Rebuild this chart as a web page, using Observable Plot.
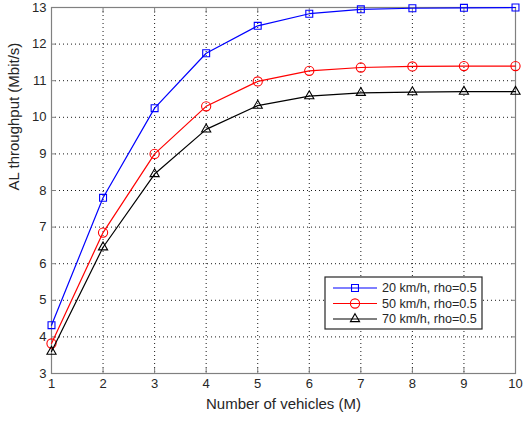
<!DOCTYPE html>
<html><head><meta charset="utf-8">
<script src="https://cdn.jsdelivr.net/npm/d3@7"></script>
<script src="https://cdn.jsdelivr.net/npm/@observablehq/plot@0.6"></script>
<style>
body{margin:0;background:#fff;}
#chart{position:relative;width:523px;height:423px;}
</style>
</head><body><div id="chart"></div>
<script>
const vehicles = [1,2,3,4,5,6,7,8,9,10];
const series20 = [4.32,7.80,10.25,11.75,12.50,12.83,12.95,12.98,12.99,13.00];
const series50 = [3.82,6.85,9.00,10.30,10.98,11.27,11.36,11.39,11.40,11.40];
const series70 = [3.60,6.45,8.45,9.67,10.32,10.58,10.67,10.69,10.70,10.70];
const seriesNames = ["20 km/h, rho=0.5","50 km/h, rho=0.5","70 km/h, rho=0.5"];
const seriesColors = ["#0000ff","#ff0000","#000000"];
const seriesSymbols = ["square","circle","triangle"];
const xTicks = [1,2,3,4,5,6,7,8,9,10];
const yTicks = [3,4,5,6,7,8,9,10,11,12,13];
const xLabel = "Number of vehicles (M)";
const yLabel = "AL throughput (Mbit/s)";

const allSeries = [series20, series50, series70];
const data = allSeries.flatMap((vals, s) => vals.map((v, i) => ({x: vehicles[i], y: v, s: seriesNames[s]})));

const font = "Liberation Sans, Arial, sans-serif";
const axisColor = "#808080";
const textColor = "#262626";
const symbolR = {square: 3.9, circle: 4.6, triangle: 3.4};
const d3Sym = {square: d3.symbolSquare, circle: d3.symbolCircle, triangle: d3.symbolTriangle};

const marks = [
  Plot.gridX(xTicks, {stroke: "#000", strokeOpacity: 0.9, strokeDasharray: "1,3", strokeWidth: 1}),
  Plot.gridY(yTicks, {stroke: "#000", strokeOpacity: 0.9, strokeDasharray: "1,3", strokeWidth: 1}),
  Plot.axisX({ticks: xTicks, tickSize: -5, stroke: axisColor, color: textColor, tickPadding: 10, label: null, fontSize: 13}),
  Plot.axisX({ticks: xTicks, anchor: "top", tickSize: -5, stroke: axisColor, tickFormat: () => "", label: null}),
  Plot.axisY({ticks: yTicks, tickSize: -5, stroke: axisColor, color: textColor, tickPadding: 10, label: null, fontSize: 13}),
  Plot.axisY({ticks: yTicks, anchor: "right", tickSize: -5, stroke: axisColor, tickFormat: () => "", label: null}),
  Plot.frame({stroke: axisColor, strokeWidth: 1.2}),
];
allSeries.forEach((vals, s) => {
  const d = data.filter(r => r.s === seriesNames[s]);
  marks.push(Plot.line(d, {x: "x", y: "y", stroke: seriesColors[s], strokeWidth: 1.2}));
  marks.push(Plot.dot(d, {x: "x", y: "y", stroke: seriesColors[s], symbol: () => seriesSymbols[s], r: symbolR[seriesSymbols[s]], fill: "none", strokeWidth: 1.1}));
});
marks.push(Plot.text([xLabel], {frameAnchor: "bottom", dy: 35, fontSize: 15, fill: textColor, fontFamily: font}));
marks.push(Plot.text([yLabel], {frameAnchor: "left", dx: -37, rotate: -90, fontSize: 15, fill: textColor, fontFamily: font}));

const chart = Plot.plot({
  width: 523, height: 423,
  marginLeft: 51, marginRight: 8, marginTop: 7, marginBottom: 50,
  style: {fontFamily: font, fontSize: "13px", background: "#fff", color: textColor},
  x: {domain: [1, 10]},
  y: {domain: [3, 13]},
  marks
});
document.getElementById("chart").appendChild(chart);

// Legend box drawn into the SVG
const svg = d3.select(chart);
const lg = svg.append("g").attr("transform", "translate(325,277)").attr("text-anchor", "start");
lg.append("rect").attr("width", 157).attr("height", 52).attr("fill", "#fff").attr("stroke", "#262626").attr("stroke-width", 1.2);
seriesNames.forEach((name, i) => {
  const y = 11 + i * 15.5;
  const sym = seriesSymbols[i];
  lg.append("line").attr("x1", 8).attr("x2", 52).attr("y1", y).attr("y2", y).attr("stroke", seriesColors[i]).attr("stroke-width", 1.2);
  lg.append("path").attr("transform", `translate(30,${y})`)
    .attr("d", d3.symbol(d3Sym[sym], Math.PI * symbolR[sym] * symbolR[sym])())
    .attr("fill", "none").attr("stroke", seriesColors[i]).attr("stroke-width", 1.1);
  lg.append("text").attr("x", 57).attr("y", y).attr("dy", "0.35em").attr("font-size", 12.6).attr("fill", textColor).attr("font-family", font).text(name);
});
</script></body></html>
